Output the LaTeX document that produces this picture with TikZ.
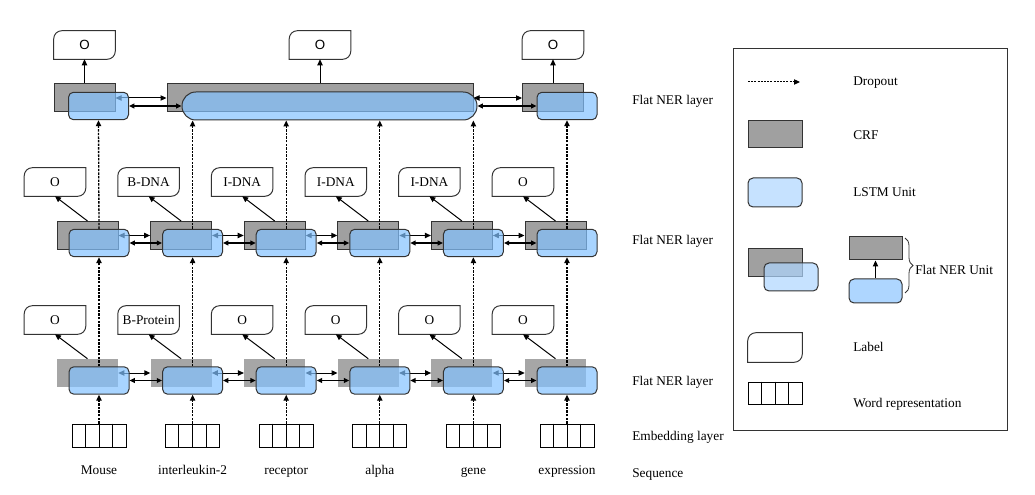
\documentclass[tikz,border=0pt]{standalone}
\usepackage{fontspec}
\setmainfont{Liberation Serif}
\newfontfamily\arialf{Liberation Sans}
\usetikzlibrary{arrows.meta,calc,decorations.pathreplacing}
\definecolor{crfgray}{HTML}{A0A0A0}
\definecolor{crflight}{HTML}{A6A6A6}
\definecolor{lstmblue}{HTML}{83C2FF}
\definecolor{lstmlight}{HTML}{AED6FF}
\definecolor{edge}{HTML}{333333}
\newcommand\lblshape[1]{\draw[line width=0.75pt, draw=edge] (#1.north east) -- ([yshift=6pt]#1.south east) arc[start angle=0,end angle=-90,radius=6pt] -- (#1.south west) -- ([yshift=-6pt]#1.north west) arc[start angle=180,end angle=90,radius=6pt] -- cycle;}
\newcommand\wrepcells[1]{\foreach \f in {0.25,0.5,0.75}{\draw[line width=0.75pt] ($(#1.north west)!\f!(#1.north east)$) -- ($(#1.south west)!\f!(#1.south east)$);}}
\begin{document}
\begin{tikzpicture}[x=0.75pt,y=-0.75pt,
 crf/.style={draw=edge, line width=0.75pt, fill=crfgray, minimum width=45.75pt, minimum height=21pt, inner sep=0pt},
 crfb/.style={fill=crflight, minimum width=45.75pt, minimum height=21pt, inner sep=0pt},
 lstm/.style={draw=edge, line width=0.75pt, fill=lstmblue, fill opacity=0.7, draw opacity=1, rounded corners=3.75pt, minimum width=45pt, minimum height=20.6pt, inner sep=0pt},
 lstml/.style={lstm, fill=lstmlight},
 lbl/.style={minimum width=45.75pt, minimum height=21pt, inner sep=0pt, font=\fontsize{10}{12}\selectfont},
 wrep/.style={draw=black, line width=0.75pt, minimum width=40.5pt, minimum height=17.25pt, inner sep=0pt},
 drop/.style={black, line width=1pt, dash pattern=on 1.8pt off 0.9pt, -{Triangle[length=4.5pt,width=4pt]}},
 arr/.style={line width=0.75pt, -{Triangle[length=4.5pt,width=4pt]}},
 darr/.style={line width=0.75pt, {Triangle[length=4.5pt,width=4pt]}-{Triangle[length=4.5pt,width=4pt]}},
 tdarr/.style={line width=1.2pt, {Triangle[length=4pt,width=3.6pt]}-{Triangle[length=4pt,width=3.6pt]}},
 txt/.style={font=\fontsize{10}{12}\selectfont, inner sep=0pt},
 ]
\useasboundingbox (0,0) rectangle (1035,495);
% legend frame
\node[draw=edge, line width=0.75pt, minimum width=205.5pt, minimum height=285.75pt, inner sep=0pt] (legend) at (870,239.5) {};

% ---------- CRF boxes ----------
\foreach \i/\x in {1/99,2/192.6,3/286.2,4/379.8,5/473.4,6/567}{
  \node[crfb] (ca\i) at ({\x-11.5},373) {};
  \node[crf] (cb\i) at ({\x-11.5},235.5) {};
}
\node[crf] (ct1) at (84.5,98) {};
\node[crf, minimum width=229.5pt] (ct2) at (320,98) {};
\node[crf] (ct3) at (553,98) {};

% CRF links
\foreach \i [count=\j from 2] in {1,...,5}{
  \draw[darr] (ca\i.east) -- (ca\j.west);
  \draw[darr] (cb\i.east) -- (cb\j.west);
}
\draw[darr] (ct1.east) -- (ct2.west);
\draw[darr] (ct2.east) -- (ct3.west);

% ---------- LSTM units ----------
\foreach \i/\x in {1/99,2/192.6,3/286.2,4/379.8,5/473.4,6/567}{
  \node[lstm] (ua\i) at (\x,380.5) {};
  \node[lstm] (ub\i) at (\x,243) {};
}
\node[lstm] (ut1) at (98.5,106) {};
\node[lstm, minimum width=221.25pt, minimum height=21pt, rounded corners=10.4pt] (ut2) at (329.5,106) {};
\node[lstm] (ut3) at (567,106) {};

% LSTM links
\foreach \i [count=\j from 2] in {1,...,5}{
  \draw[tdarr] (ua\i.east) -- (ua\j.west);
  \draw[tdarr] (ub\i.east) -- (ub\j.west);
}
\draw[tdarr] (ut1.east) -- (ut2.west);
\draw[tdarr] (ut2.east) -- (ut3.west);

% ---------- labels, words ----------
\foreach \i/\x/\la/\lb/\w in {1/99/O/O/Mouse,2/192.6/B-Protein/B-DNA/interleukin-2,3/286.2/O/I-DNA/receptor,4/379.8/O/I-DNA/alpha,5/473.4/O/I-DNA/gene,6/567/O/O/expression}{
  \node[lbl] (na\i) at ({\x-44},320) {\la};
  \lblshape{na\i}
  \node[lbl] (nb\i) at ({\x-44},182) {\lb};
  \lblshape{nb\i}
  \draw[arr] (ca\i.north) -- (na\i.south);
  \draw[arr] (cb\i.north) -- (nb\i.south);
  \node[wrep] (wa\i) at (\x,435.5) {};
  \wrepcells{wa\i}
  \node[txt, anchor=base] (s\i) at (\x,474) {\w};
  \draw[drop] (wa\i.north) -- (ua\i.south);
  \draw[drop] (ua\i.north) -- (ub\i.south);
}
\foreach \i/\x in {1/84.5,2/320,3/553}{
  \node[lbl, font=\arialf\fontsize{10}{12}\selectfont] (nt\i) at (\x,45) {O};
  \lblshape{nt\i}
  \draw[arr] (ct\i.north) -- (nt\i.south);
}
\draw[drop] (ub1.north) -- (ut1.south);
\draw[drop] (ub6.north) -- (ut3.south);
\foreach \i in {2,...,5}{
  \draw[drop] (ub\i.north) -- (ub\i.north |- ut2.south);
}

% ---------- layer names ----------
\node[txt, anchor=base west] (ly3) at (632,105) {Flat NER layer};
\node[txt, anchor=base west] (ly2) at (632,245) {Flat NER layer};
\node[txt, anchor=base west] (ly1) at (632,385) {Flat NER layer};
\node[txt, anchor=base west] (ly0) at (632,440) {Embedding layer};
\node[txt, anchor=base west] (lys) at (632,477) {Sequence};

% ---------- legend ----------
\coordinate (g1) at (748,82);
\coordinate (g2) at (800,82);
\draw[drop, line width=0.75pt, dash pattern=on 1.5pt off 0.9pt] (g1) -- (g2);
\node[txt, anchor=base west] (gt1) at (853,86) {Dropout};

\node[crf, minimum width=40.5pt, minimum height=20.25pt] (gcrf) at (775,134.5) {};
\node[txt, anchor=base west] (gt2) at (853,139.5) {CRF};

\node[lstml, minimum width=40.5pt, minimum height=21.75pt] (glstm) at (775,192.5) {};
\node[txt, anchor=base west] (gt3) at (853,197) {LSTM Unit};

\node[crf, minimum width=40.5pt, minimum height=21pt] (gcc) at (775,263) {};
\node[lstml, minimum width=40.5pt, minimum height=21pt] (gcl) at (791,277) {};

\node[crf, minimum width=39.75pt, minimum height=17.25pt] (gfc) at (875.5,248.5) {};
\node[lstml, fill opacity=1, minimum width=39.75pt, minimum height=18pt] (gfl) at (875.5,291) {};
\draw[arr] (gfl.north) -- (gfc.south);
\coordinate (b1) at (905,238);
\coordinate (b2) at (905,293);
\draw[edge, line width=0.6pt, decorate, decoration={brace, amplitude=6pt}] (b1) -- (b2);
\node[txt, anchor=base west] (gt4) at (915,274.5) {Flat NER Unit};

\node[lbl, minimum width=40.5pt, minimum height=21.75pt] (glab) at (775,347.5) {};
\lblshape{glab}
\node[txt, anchor=base west] (gt5) at (853,351.5) {Label};

\node[wrep, minimum height=16.5pt] (gw) at (775,393) {};
\wrepcells{gw}
\node[txt, anchor=base west] (gt6) at (853,407) {Word representation};
\end{tikzpicture}
\end{document}
